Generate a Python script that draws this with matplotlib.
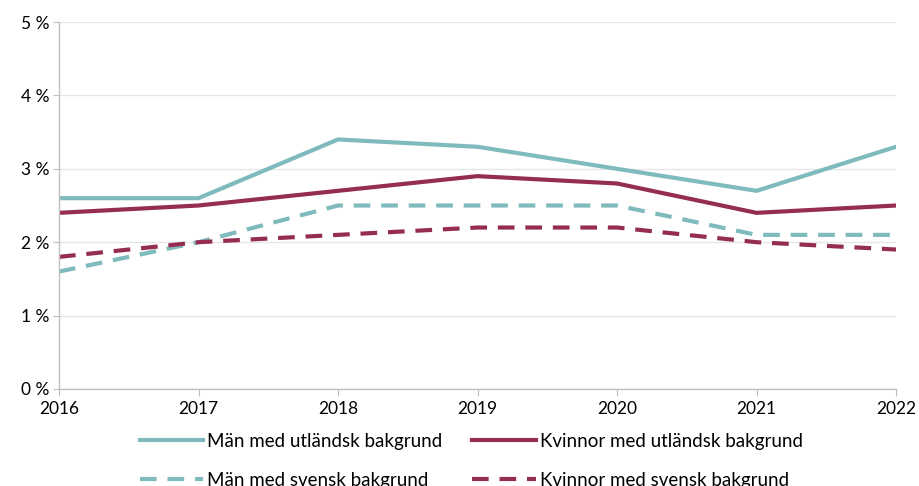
import matplotlib.pyplot as plt
from matplotlib.ticker import FuncFormatter

# data (share, %)
years = [2016, 2017, 2018, 2019, 2020, 2021, 2022]
man_utl = [2.6, 2.6, 3.4, 3.3, 3.0, 2.7, 3.3]
kvinnor_utl = [2.4, 2.5, 2.7, 2.9, 2.8, 2.4, 2.5]
man_sv = [1.6, 2.0, 2.5, 2.5, 2.5, 2.1, 2.1]
kvinnor_sv = [1.8, 2.0, 2.1, 2.2, 2.2, 2.0, 1.9]

labels = ["Män med utländsk bakgrund", "Kvinnor med utländsk bakgrund",
          "Män med svensk bakgrund", "Kvinnor med svensk bakgrund"]

teal = "#7FBBBC"
maroon = "#952D53"

plt.rcParams["font.family"] = ["Lato", "DejaVu Sans"]

fig = plt.figure(figsize=(9.19, 4.86), dpi=100)
ax = fig.add_axes([0.0642, 0.1996, 0.9108, 0.7551])

dash = (0, (4, 2.6))
ax.plot(years, man_utl, color=teal, lw=3, label=labels[0])
ax.plot(years, kvinnor_utl, color=maroon, lw=3, label=labels[1])
ax.plot(years, man_sv, color=teal, lw=3, linestyle=dash, label=labels[2])
ax.plot(years, kvinnor_sv, color=maroon, lw=3, linestyle=dash, label=labels[3])

ax.set_xlim(years[0], years[-1])
ax.set_ylim(0, 5)
ax.set_xticks(years)
ax.set_yticks(range(0, 6))
ax.yaxis.set_major_formatter(FuncFormatter(lambda v, p: f"{int(v)} %"))
ax.grid(axis="y", color="#E6E6E6", lw=1)
ax.set_axisbelow(True)

for s in ["top", "right"]:
    ax.spines[s].set_visible(False)
for s in ["left", "bottom"]:
    ax.spines[s].set_color("#BFBFBF")
    ax.spines[s].set_linewidth(1)
ax.tick_params(axis="both", colors="#BFBFBF", labelcolor="black", labelsize=12.5, length=5)
ax.tick_params(axis="x", pad=4)
ax.tick_params(axis="y", pad=3, length=4)

# legend order: row 1 utländsk, row 2 svensk
handles, lbls = ax.get_legend_handles_labels()
order = [0, 2, 1, 3]
fig.legend([handles[i] for i in order], [lbls[i] for i in order],
           ncol=2, loc="upper left", bbox_to_anchor=(0.152, 0.109),
           frameon=False, fontsize=13.5, handlelength=3.4, handletextpad=0.2,
           columnspacing=1.6, labelspacing=1.16, borderpad=0, borderaxespad=0)

fig.savefig("out.png", dpi=100)
